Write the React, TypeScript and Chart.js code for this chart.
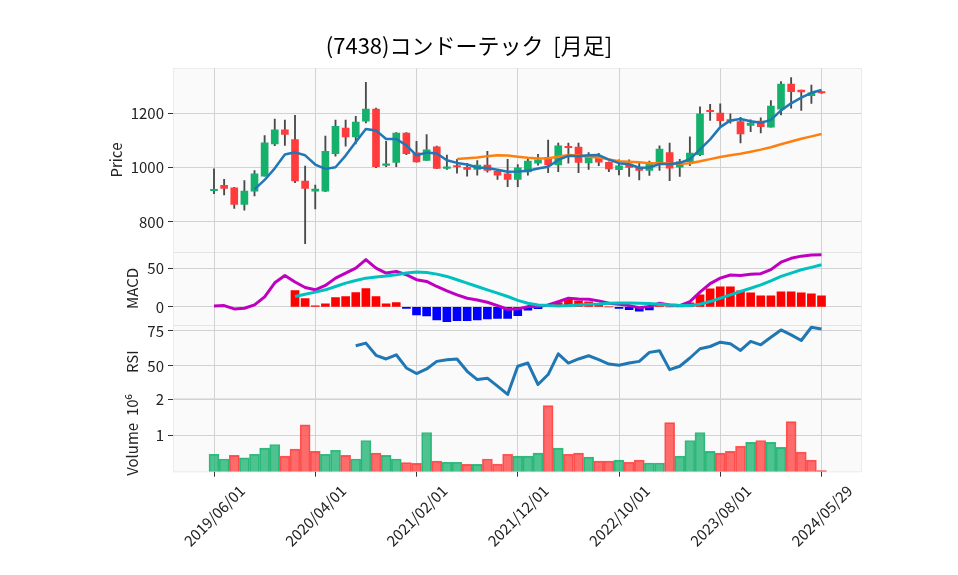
import React, { useEffect, useRef } from 'react';
import { Chart, registerables } from 'chart.js';

Chart.register(...registerables);

const FONT = "'Noto Sans CJK JP', 'Noto Sans', sans-serif";

const DATES = [
  '2019/06/01', '2019/07/01', '2019/08/01', '2019/09/01', '2019/10/01', '2019/11/01', '2019/12/01',
  '2020/01/01', '2020/02/01', '2020/03/01', '2020/04/01', '2020/05/01', '2020/06/01',
  '2020/07/01', '2020/08/01', '2020/09/01', '2020/10/01', '2020/11/01', '2020/12/01',
  '2021/01/01', '2021/02/01', '2021/03/01', '2021/04/01', '2021/05/01', '2021/06/01',
  '2021/07/01', '2021/08/01', '2021/09/01', '2021/10/01', '2021/11/01', '2021/12/01',
  '2022/01/01', '2022/02/01', '2022/03/01', '2022/04/01', '2022/05/01', '2022/06/01',
  '2022/07/01', '2022/08/01', '2022/09/01', '2022/10/01', '2022/11/01', '2022/12/01',
  '2023/01/01', '2023/02/01', '2023/03/01', '2023/04/01', '2023/05/01', '2023/06/01',
  '2023/07/01', '2023/08/01', '2023/09/01', '2023/10/01', '2023/11/01', '2023/12/01',
  '2024/01/01', '2024/02/01', '2024/03/01', '2024/04/01', '2024/05/01', '2024/05/29',
];

const TICK_POS = [0, 10, 20, 30, 40, 50, 60];

const OPEN = [
  915, 935, 926, 865, 914, 969, 1088, 1140, 1104, 951,
  914, 914, 1052, 1147, 1114, 1172, 1217, 1009, 1020, 1128,
  1055, 1027, 1077, 998, 1008, 1002, 994, 1010, 988, 978,
  957, 985, 1017, 1039, 1011, 1078, 1076, 1018, 1036, 1020,
  993, 1014, 1001, 990, 1020, 1056, 1002, 1023, 1048, 1210,
  1202, 1176, 1171, 1156, 1172, 1150, 1216, 1309, 1287, 1266,
  1281,
];
const HIGH = [
  996, 957, 928, 953, 990, 1119, 1180, 1176, 1194, 1006,
  936, 1117, 1176, 1176, 1190, 1316, 1220, 1098, 1130, 1130,
  1098, 1123, 1080, 1047, 1031, 1016, 1027, 1061, 990, 1031,
  1012, 1039, 1050, 1102, 1091, 1091, 1091, 1056, 1053, 1022,
  1029, 1029, 1017, 1025, 1081, 1091, 1031, 1114, 1225, 1234,
  1236, 1199, 1186, 1177, 1184, 1248, 1318, 1333, 1287, 1305,
  1281,
];
const LOW = [
  904, 900, 850, 843, 896, 969, 1082, 1083, 945, 720,
  848, 912, 1043, 1080, 1088, 1166, 1000, 1004, 1004, 1048,
  1021, 1027, 997, 994, 980, 969, 973, 984, 957, 930,
  930, 973, 1010, 982, 986, 1017, 982, 994, 1008, 986,
  974, 968, 955, 972, 990, 952, 968, 1008, 1045, 1175,
  1155, 1165, 1092, 1133, 1129, 1150, 1195, 1220, 1212, 1238,
  1275,
];
const CLOSE = [
  918, 924, 865, 914, 978, 1092, 1140, 1123, 951, 924,
  921, 1061, 1153, 1114, 1169, 1217, 1004, 1014, 1128, 1052,
  1022, 1066, 998, 1002, 1003, 994, 1010, 990, 973, 957,
  1000, 1025, 1029, 1011, 1081, 1074, 1020, 1045, 1021, 996,
  1007, 1001, 990, 1015, 1069, 999, 1023, 1054, 1199, 1207,
  1174, 1172, 1125, 1165, 1152, 1228, 1309, 1281, 1280, 1277,
  1276,
];
// volume in millions of shares
const VOLUME = [
  0.48, 0.35, 0.45, 0.38, 0.48, 0.65, 0.75, 0.43, 0.62, 1.29,
  0.56, 0.48, 0.59, 0.45, 0.35, 0.86, 0.51, 0.45, 0.35, 0.25,
  0.23, 1.08, 0.29, 0.26, 0.26, 0.2, 0.2, 0.35, 0.21, 0.48,
  0.43, 0.43, 0.51, 1.82, 0.65, 0.48, 0.51, 0.4, 0.29, 0.29,
  0.32, 0.26, 0.32, 0.24, 0.24, 1.35, 0.43, 0.86, 1.08, 0.56,
  0.51, 0.56, 0.7, 0.81, 0.86, 0.81, 0.67, 1.38, 0.54, 0.32,
  0.03,
];
const MA5 = [
  null, null, null, null, 920, 955, 998, 1049, 1057, 1046,
  1012, 996, 1002, 1045, 1095, 1143, 1138, 1106, 1106, 1083,
  1046, 1056, 1053, 1028, 1018, 1012, 1001, 999, 993, 985,
  986, 989, 997, 1004, 1029, 1044, 1043, 1046, 1047, 1030,
  1017, 1013, 1000, 1001, 1014, 1014, 1018, 1032, 1068, 1105,
  1150, 1175, 1180, 1172, 1166, 1177, 1212, 1238, 1259, 1277,
  1287,
];
const MA25 = [
  null, null, null, null, null, null, null, null, null, null,
  null, null, null, null, null, null, null, null, null, null,
  null, null, null, null, 1032, 1035, 1038, 1043, 1046, 1045,
  1041, 1037, 1034, 1035, 1041, 1047, 1045, 1041, 1038, 1031,
  1024, 1022, 1020, 1017, 1017, 1016, 1015, 1017, 1024, 1032,
  1040, 1046, 1052, 1059, 1067, 1076, 1087, 1097, 1107, 1116,
  1125,
];
const MACD = [
  1.3, 1.7, -2.6, -1.7, 2.6, 13, 31, 40.5, 32, 25,
  22, 27.6, 37, 43.5, 50, 60.8, 50, 43.5, 45.7, 41.4,
  35, 32.8, 26.3, 20.7, 15.5, 11.2, 9, 6, 1.7, -3,
  -2.5, 0.4, 0.4, 2.6, 6.9, 11.2, 10.3, 9.9, 7.8, 4.7,
  3.4, 1.7, -0.9, 0.4, 4.7, 2.6, 1.7, 6.9, 19, 30,
  37, 41, 40.5, 42, 42.7, 48, 57.5, 62.5, 65.3, 66.8,
  67,
];
const SIGNAL = [
  null, null, null, null, null, null, null, null, 13.4, 16.4,
  19, 22, 26.3, 30.6, 34, 37, 38.4, 39.7, 41.4, 43.5,
  44.8, 44.4, 42.2, 39.2, 35, 30.6, 26.3, 22, 17.7, 13.4,
  8.5, 4.7, 2.6, 1.7, 1.3, 1.7, 2.6, 3.4, 3.9, 4.7,
  5.2, 5.2, 4.7, 4.3, 3.4, 2.6, 1.7, 1.7, 3.4, 6.9,
  11.2, 15.5, 19.8, 24, 28.4, 33.6, 39.2, 43.5, 47.8, 50.9,
  54.3,
];
const HIST = [
  null, null, null, null, null, null, null, null, 21, 10.8,
  1.3, 3.9, 12, 13.4, 18.5, 23.7, 13.4, 3.9, 5.6, -2,
  -10.3, -11.6, -16.8, -19, -17.7, -17.7, -16.8, -15.5, -14.7, -14.7,
  -11.2, -4.3, -2.2, 0.9, 5.6, 9.5, 7.7, 6.5, 3.9, 0,
  -1.8, -3.5, -5.6, -3.9, 1.3, 0, 0, 5.2, 15.5, 23.3,
  25.9, 25.9, 20.7, 18.1, 14.2, 14.2, 19.4, 19.4, 18.1, 16.8,
  14.2,
];
const RSI = [
  null, null, null, null, null, null, null, null, null, null,
  null, null, null, null, 64.4, 66.3, 57.6, 55, 58, 48.6,
  44.6, 47.9, 53.3, 54.5, 55, 46.2, 40.3, 41.3, 35.6, 29.7,
  49.8, 52.1, 36.8, 43.9, 58.7, 52.1, 55, 57.3, 54.5, 51.4,
  50.5, 52.1, 53.3, 59.7, 60.9, 47.4, 49.8, 55.7, 62.3, 63.9,
  67, 65.8, 61.1, 67.5, 65.1, 70.5, 75.7, 72.2, 68.2, 77.6,
  76.4,
];

const PRICE_TICKS = [800, 1000, 1200];
const MACD_TICKS = [0, 50];
const RSI_TICKS = [50, 75];
const VOL_TICKS = [1, 2];

const UP = '#14b06c';
const DOWN = '#ff3b3b';
const VOL_UP = 'rgba(20,176,108,0.75)';
const VOL_DOWN = 'rgba(255,59,59,0.75)';

const pts = (arr: (number | null)[]) =>
  arr.map((v, i) => (v == null ? null : { x: i, y: v })).filter((p) => p !== null);

const bgPlugin = {
  id: 'panelBg',
  beforeDraw(chart: any) {
    const { ctx, chartArea: a, scales } = chart;
    ctx.save();
    ctx.fillStyle = '#ffffff';
    ctx.fillRect(0, 0, chart.width, chart.height);
    ctx.fillStyle = '#fafafa';
    ctx.fillRect(a.left, a.top, a.right - a.left, a.bottom - a.top);
    ctx.strokeStyle = '#e4e4e4';
    ctx.lineWidth = 1;
    for (const id of ['yMacd', 'yRsi', 'yVol']) {
      const y = Math.round(scales[id].top) + 0.5;
      ctx.beginPath();
      ctx.moveTo(a.left, y);
      ctx.lineTo(a.right, y);
      ctx.stroke();
    }
    ctx.strokeStyle = '#ececec';
    ctx.strokeRect(Math.round(a.left) + 0.5, Math.round(a.top) + 0.5, a.right - a.left, a.bottom - a.top);
    ctx.restore();
  },
};

export default function App() {
  const ref = useRef<HTMLCanvasElement>(null);

  useEffect(() => {
    document.body.style.margin = '0';
    const canvas = ref.current;
    if (!canvas) return;

    const tickFont = { family: FONT, size: 15 };
    const yAxis = (
      title: string,
      titlePad: number,
      min: number,
      max: number,
      ticks: number[],
      stackWeight: number,
      weight: number,
    ) => ({
      type: 'linear',
      position: 'left',
      stack: 'panels',
      stackWeight,
      weight,
      min,
      max,
      offset: false,
      border: { display: false },
      grid: { color: '#d2d2d2', lineWidth: 1, tickLength: 5, tickColor: '#333' },
      ticks: { font: tickFont, color: '#222', padding: 4, callback: (v: number) => String(v) },
      title: { display: true, text: title, font: tickFont, color: '#222', padding: { top: titlePad, bottom: 0 } },
      afterBuildTicks: (s: any) => {
        s.ticks = ticks.map((value) => ({ value }));
      },
      afterFit: (s: any) => {
        s.width = 96;
      },
    });

    const idx = DATES.map((_, i) => i);

    const chart = new Chart(canvas, {
      type: 'bar',
      data: {
        datasets: [
          {
            type: 'line',
            label: 'MA5',
            yAxisID: 'yPrice',
            data: pts(MA5),
            borderColor: '#1f77b4',
            borderWidth: 2.5,
            pointRadius: 0,
            tension: 0,
            borderJoinStyle: 'round',
            order: 0,
          },
          {
            type: 'line',
            label: 'MA25',
            yAxisID: 'yPrice',
            data: pts(MA25),
            borderColor: '#ff7f0e',
            borderWidth: 2.5,
            pointRadius: 0,
            tension: 0,
            borderJoinStyle: 'round',
            order: 0,
          },
          {
            type: 'line',
            label: 'Signal',
            yAxisID: 'yMacd',
            data: pts(SIGNAL),
            borderColor: '#00c0c0',
            borderWidth: 3,
            pointRadius: 0,
            tension: 0,
            borderJoinStyle: 'round',
            order: 0,
          },
          {
            type: 'line',
            label: 'MACD',
            yAxisID: 'yMacd',
            data: pts(MACD),
            borderColor: '#c000c0',
            borderWidth: 3,
            pointRadius: 0,
            tension: 0,
            borderJoinStyle: 'round',
            order: 0,
          },
          {
            type: 'line',
            label: 'RSI',
            yAxisID: 'yRsi',
            data: pts(RSI),
            borderColor: '#1f77b4',
            borderWidth: 3,
            pointRadius: 0,
            tension: 0,
            borderJoinStyle: 'round',
            order: 0,
          },
          {
            type: 'bar',
            label: 'body',
            yAxisID: 'yPrice',
            data: idx.map((i) => ({ x: i, y: [OPEN[i], CLOSE[i]] })),
            backgroundColor: idx.map((i) => (CLOSE[i] >= OPEN[i] ? UP : DOWN)),
            borderWidth: 0,
            barThickness: 7,
            minBarLength: 1.5,
            grouped: false,
            order: 1,
          },
          {
            type: 'bar',
            label: 'wick',
            yAxisID: 'yPrice',
            data: idx.map((i) => ({ x: i, y: [LOW[i], HIGH[i]] })),
            backgroundColor: '#4a4a4a',
            borderWidth: 0,
            barThickness: 1.2,
            grouped: false,
            order: 2,
          },
          {
            type: 'bar',
            label: 'hist',
            yAxisID: 'yMacd',
            data: pts(HIST),
            backgroundColor: HIST.filter((v) => v != null).map((v) => ((v as number) >= 0 ? '#ff0000' : '#0000ff')),
            borderWidth: 0,
            barThickness: 8,
            grouped: false,
            order: 1,
          },
          {
            type: 'bar',
            label: 'volume',
            yAxisID: 'yVol',
            data: idx.map((i) => ({ x: i, y: VOLUME[i] })),
            backgroundColor: idx.map((i) => (i === 0 || CLOSE[i] >= CLOSE[i - 1] ? VOL_UP : VOL_DOWN)),
            borderColor: idx.map((i) => (i === 0 || CLOSE[i] >= CLOSE[i - 1] ? 'rgba(20,176,108,0.85)' : 'rgba(255,59,59,0.85)')),
            borderWidth: 1,
            barThickness: 10,
            grouped: false,
            order: 1,
          },
        ],
      },
      options: {
        responsive: false,
        animation: false,
        devicePixelRatio: 1,
        events: [],
        layout: { padding: { left: 77, right: 97, top: 0, bottom: 0 } },
        plugins: {
          legend: { display: false },
          tooltip: { enabled: false },
          title: {
            display: true,
            text: '(7438)コンドーテック  [月足]',
            font: { family: FONT, size: 22, weight: 'normal' },
            color: '#000',
            padding: { top: 32, bottom: 10 },
          },
        },
        scales: {
          x: {
            type: 'linear',
            min: -4.05,
            max: 63.9,
            offset: false,
            border: { display: false },
            grid: { color: '#d2d2d2', lineWidth: 1, tickLength: 5, tickColor: '#333', offset: false },
            afterBuildTicks: (s: any) => {
              s.ticks = TICK_POS.map((value) => ({ value }));
            },
            ticks: {
              font: tickFont,
              color: '#222',
              minRotation: 45,
              maxRotation: 45,
              autoSkip: false,
              labelOffset: 28,
              padding: 5,
              callback: (v: number) => DATES[v],
            },
            afterFit: (s: any) => {
              s.height = 103.3;
            },
          },
          yPrice: yAxis('Price', 30, 690, 1367, PRICE_TICKS, 5, 4),
          yMacd: yAxis('MACD', 46, -23.3, 71, MACD_TICKS, 2, 3),
          yRsi: yAxis('RSI', 46, 26.9, 79.2, RSI_TICKS, 2, 2),
          yVol: yAxis('Volume  10\u2076', 46, 0, 2.02, VOL_TICKS, 2, 1),
        },
      } as any,
      plugins: [bgPlugin],
    } as any);

    return () => chart.destroy();
  }, []);

  return <canvas ref={ref} width={958} height={575} style={{ display: 'block' }} />;
}
